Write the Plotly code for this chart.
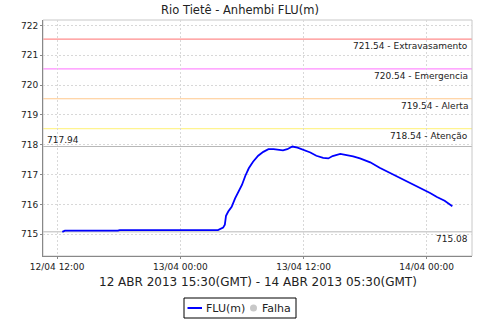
import plotly.graph_objects as go

# ---- data ----
times = [
    "2013-04-12 12:30", "2013-04-12 12:45", "2013-04-12 17:55", "2013-04-12 18:05",
    "2013-04-13 03:40", "2013-04-13 04:00", "2013-04-13 04:10", "2013-04-13 04:20",
    "2013-04-13 04:27", "2013-04-13 04:40", "2013-04-13 05:00", "2013-04-13 05:20",
    "2013-04-13 05:40", "2013-04-13 06:00", "2013-04-13 06:20", "2013-04-13 06:40",
    "2013-04-13 07:05", "2013-04-13 07:35", "2013-04-13 08:05", "2013-04-13 08:35",
    "2013-04-13 09:05", "2013-04-13 09:35", "2013-04-13 10:00", "2013-04-13 10:25",
    "2013-04-13 10:55", "2013-04-13 11:25", "2013-04-13 12:00", "2013-04-13 12:40",
    "2013-04-13 13:15", "2013-04-13 13:55", "2013-04-13 14:25", "2013-04-13 14:50",
    "2013-04-13 15:35", "2013-04-13 16:15", "2013-04-13 16:50", "2013-04-13 17:30",
    "2013-04-13 18:30", "2013-04-13 19:25", "2013-04-13 20:25", "2013-04-13 21:25",
    "2013-04-13 22:25", "2013-04-13 23:20", "2013-04-14 00:20", "2013-04-14 01:00",
    "2013-04-14 01:45", "2013-04-14 02:30",
]
flu = [
    715.08, 715.12, 715.12, 715.14,
    715.14, 715.19, 715.22, 715.32,
    715.62, 715.76, 715.92, 716.20,
    716.42, 716.65, 716.96, 717.21,
    717.43, 717.63, 717.76, 717.85,
    717.85, 717.84, 717.81, 717.85,
    717.94, 717.90, 717.83, 717.74,
    717.63, 717.56, 717.54, 717.62,
    717.69, 717.66, 717.61, 717.54,
    717.41, 717.23, 717.06, 716.89,
    716.73, 716.56, 716.38, 716.25,
    716.12, 715.94,
]
threshold_values = [721.54, 720.54, 719.54, 718.54]
threshold_names = ["Extravasamento", "Emergencia", "Alerta", "Atenção"]
threshold_colors = ["#ff8c8c", "#ff8cff", "#ffc88c", "#fff490"]
max_value = 717.94
min_value = 715.08
x_tickvals = ["2013-04-12 12:00", "2013-04-13 00:00", "2013-04-13 12:00", "2013-04-14 00:00"]
x_ticktext = ["12/04 12:00", "13/04 00:00", "13/04 12:00", "14/04 00:00"]
y_tickvals = [715, 716, 717, 718, 719, 720, 721, 722]
legend_names = ["FLU(m)", "Falha"]

FONT = "DejaVu Sans"
W, H = 480, 320
ML, MR, MT, MB = 43, 8, 20, 64
PW, PH = W - ML - MR, H - MT - MB


def px(x):
    return (x - ML) / PW


def py(y):
    return (H - MB - y) / PH


fig = go.Figure()
fig.add_trace(go.Scatter(x=times, y=flu, mode="lines", name=legend_names[0],
                         line=dict(color="#0000ff", width=1.8), showlegend=False))

shapes = []
annotations = []
for v, n, c in zip(threshold_values, threshold_names, threshold_colors):
    shapes.append(dict(type="line", xref="paper", x0=0, x1=1, yref="y", y0=v, y1=v,
                       line=dict(color=c, width=1.2), layer="below"))
    annotations.append(dict(xref="paper", x=1, xanchor="right", xshift=-2,
                            yref="y", y=v, yanchor="top", showarrow=False,
                            text=f"{v:.2f} - {n}", font=dict(family=FONT, size=9, color="#222")))
for v in (max_value, min_value):
    shapes.append(dict(type="line", xref="paper", x0=0, x1=1, yref="y", y0=v, y1=v,
                       line=dict(color="#b8b8b8", width=1), layer="below"))
annotations.append(dict(xref="paper", x=0, xanchor="left", xshift=2, yref="y", y=max_value,
                        yanchor="bottom", showarrow=False, text=f"{max_value:.2f}",
                        font=dict(family=FONT, size=9, color="#222")))
annotations.append(dict(xref="paper", x=1, xanchor="right", xshift=-2, yref="y", y=min_value,
                        yanchor="top", showarrow=False, text=f"{min_value:.2f}",
                        font=dict(family=FONT, size=9, color="#222")))
annotations.append(dict(xref="paper", x=0.5, xanchor="center", yref="paper", y=-0.109,
                        yanchor="middle", showarrow=False,
                        text="12 ABR 2013 15:30(GMT) - 14 ABR 2013 05:30(GMT)",
                        font=dict(family=FONT, size=12, color="#222")))
# frame (top/right lighter)
shapes.append(dict(type="rect", xref="paper", yref="paper", x0=0, x1=1, y0=0, y1=1,
                   line=dict(color="#c8c8c8", width=1), layer="below"))

# legend box (drawn to match the compact reference legend)
shapes.append(dict(type="rect", xref="paper", yref="paper", x0=px(184), x1=px(296),
                   y0=py(318), y1=py(298), line=dict(color="black", width=1),
                   fillcolor="white"))
shapes.append(dict(type="line", xref="paper", yref="paper", x0=px(187.5), x1=px(202),
                   y0=py(308), y1=py(308), line=dict(color="#0000ff", width=2)))
annotations.append(dict(xref="paper", yref="paper", x=px(204), y=py(308), xanchor="left",
                        yanchor="middle", showarrow=False, text=legend_names[0],
                        font=dict(family=FONT, size=11, color="#222")))
shapes.append(dict(type="circle", xref="paper", yref="paper", x0=px(250), x1=px(257),
                   y0=py(311.5), y1=py(304.5), line=dict(color="#c8c8c8", width=0),
                   fillcolor="#c8c8c8"))
annotations.append(dict(xref="paper", yref="paper", x=px(260), y=py(308), xanchor="left",
                        yanchor="middle", showarrow=False, text=legend_names[1],
                        font=dict(family=FONT, size=11, color="#222")))

fig.update_layout(
    width=W, height=H,
    margin=dict(l=ML, r=MR, t=MT, b=MB, autoexpand=False),
    paper_bgcolor="white", plot_bgcolor="white",
    font=dict(family=FONT, size=9, color="#222"),
    title=dict(text="Rio Tietê - Anhembi FLU(m)", x=0.5, xanchor="center",
               xref="container", y=1 - 10 / 320, yanchor="middle", yref="container",
               font=dict(family=FONT, size=11.5, color="#222")),
    shapes=shapes, annotations=annotations,
    showlegend=False,
    xaxis=dict(type="date", range=["2013-04-12 10:37", "2013-04-14 04:25"],
               tickvals=x_tickvals, ticktext=x_ticktext,
               showgrid=True, gridcolor="#d8d8d8", griddash="2px,2px", gridwidth=1,
               showline=True, linecolor="#888", linewidth=1,
               ticks="outside", ticklen=2, tickcolor="#888",
               zeroline=False, tickfont=dict(family=FONT, size=9, color="#222")),
    yaxis=dict(range=[714.27, 722.18], tickvals=y_tickvals,
               showgrid=True, gridcolor="#d8d8d8", griddash="2px,2px", gridwidth=1,
               showline=True, linecolor="#888", linewidth=1,
               ticks="outside", ticklen=2, tickcolor="#888",
               zeroline=False, tickfont=dict(family=FONT, size=9, color="#222")),
)

fig.write_html("out.html")
